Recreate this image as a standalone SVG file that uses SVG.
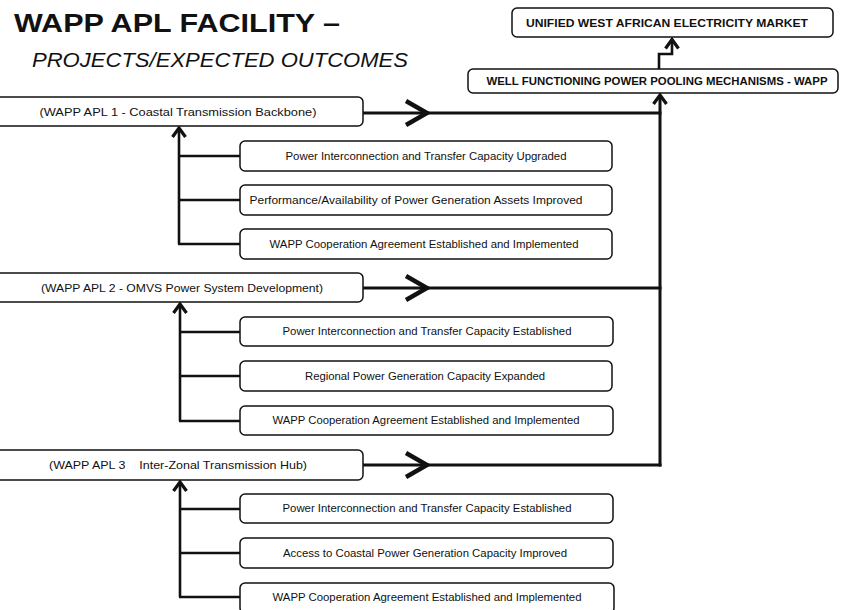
<svg xmlns="http://www.w3.org/2000/svg" width="845" height="610" viewBox="0 0 845 610">
<defs>
<style>
.box{fill:#fff;stroke:#111;stroke-width:1.5}
.t{font-family:"Liberation Sans",Arial,sans-serif;font-size:10px;fill:#111;text-anchor:middle}
.apl{font-family:"Liberation Sans",Arial,sans-serif;font-size:11px;fill:#111;text-anchor:middle}
.b{font-family:"Liberation Sans",Arial,sans-serif;font-size:10px;font-weight:bold;fill:#111;text-anchor:middle}
.c{fill:none;stroke:#111;stroke-width:2.6}
.m{fill:none;stroke:#111;stroke-width:3}
</style>
<marker id="chev" markerUnits="userSpaceOnUse" markerWidth="30" markerHeight="30" viewBox="-26 -15 30 30" refX="0" refY="0" orient="auto">
<path d="M-21,-12 L0,0 L-21,12" fill="none" stroke="#111" stroke-width="4.5" stroke-linejoin="miter"/>
</marker>
<marker id="ah" markerUnits="userSpaceOnUse" markerWidth="16" markerHeight="16" viewBox="-10 -8 16 16" refX="0" refY="0" orient="auto">
<path d="M-9,-6.5 L0,0 L-9,6.5" fill="none" stroke="#111" stroke-width="3.2"/>
</marker>
</defs>
<rect width="845" height="610" fill="#fff"/>

<g id="title">
<text x="14" y="32" font-family="'Liberation Sans',Arial,sans-serif" font-size="25" font-weight="bold" fill="#111" textLength="326" lengthAdjust="spacingAndGlyphs">WAPP APL FACILITY –</text>
<text x="32" y="67" font-family="'Liberation Sans',Arial,sans-serif" font-size="20" font-style="italic" fill="#111" textLength="376" lengthAdjust="spacingAndGlyphs">PROJECTS/EXPECTED OUTCOMES</text>
</g>

<g id="connectors">
<path class="c" d="M659,69 V54 H672 V39.5" marker-end="url(#ah)"/>
<path class="m" d="M660,466.5 V95" marker-end="url(#ah)"/>
<path class="m" d="M363,113 H427" marker-end="url(#chev)"/>
<path class="m" d="M425,113 H661.5"/>
<path class="m" d="M363,288 H427" marker-end="url(#chev)"/>
<path class="m" d="M425,288 H661.5"/>
<path class="m" d="M363,465 H427" marker-end="url(#chev)"/>
<path class="m" d="M425,465 H661.5"/>
<path class="c" d="M179,244 V128" marker-end="url(#ah)"/>
<path class="c" d="M178,156 H240 M178,200 H240 M178,244 H240"/>
<path class="c" d="M180,421 V304" marker-end="url(#ah)"/>
<path class="c" d="M179,332 H240 M179,376 H240 M179,421 H240"/>
<path class="c" d="M180,597 V482" marker-end="url(#ah)"/>
<path class="c" d="M179,509 H240 M179,553 H240 M179,597 H240"/>
</g>

<g id="unified">
<rect class="box" x="512" y="8" width="321" height="29" rx="5"/>
<text class="b" x="667" y="26.5" font-size="10.5" textLength="282" lengthAdjust="spacingAndGlyphs">UNIFIED WEST AFRICAN ELECTRICITY MARKET</text>
</g>
<g id="wapp">
<rect class="box" x="468" y="69" width="370" height="24" rx="5"/>
<text class="b" x="657" y="84.5" font-size="9.5" textLength="341" lengthAdjust="spacingAndGlyphs">WELL FUNCTIONING POWER POOLING MECHANISMS - WAPP</text>
</g>

<g id="apl1">
<rect class="box" x="-6" y="97" width="369" height="29" rx="5"/>
<text class="apl" x="178" y="115.5" textLength="277" lengthAdjust="spacingAndGlyphs">(WAPP APL 1 - Coastal Transmission Backbone)</text>
</g>
<g id="apl1-o1">
<rect class="box" x="240" y="141" width="372" height="30" rx="5"/>
<text class="t" x="426" y="159.5" textLength="281" lengthAdjust="spacingAndGlyphs">Power Interconnection and Transfer Capacity Upgraded</text>
</g>
<g id="apl1-o2">
<rect class="box" x="240" y="185" width="372" height="30" rx="5"/>
<text class="t" x="416" y="203.5" textLength="333" lengthAdjust="spacingAndGlyphs">Performance/Availability of Power Generation Assets Improved</text>
</g>
<g id="apl1-o3">
<rect class="box" x="240" y="229" width="372" height="30" rx="5"/>
<text class="t" x="424" y="247.5" textLength="309" lengthAdjust="spacingAndGlyphs">WAPP Cooperation Agreement Established and Implemented</text>
</g>

<g id="apl2">
<rect class="box" x="-6" y="273" width="369" height="29" rx="5"/>
<text class="apl" x="182" y="291.5" textLength="282" lengthAdjust="spacingAndGlyphs">(WAPP APL 2 - OMVS Power System Development)</text>
</g>
<g id="apl2-o1">
<rect class="box" x="240" y="317" width="373" height="29" rx="5"/>
<text class="t" x="427" y="335" textLength="289" lengthAdjust="spacingAndGlyphs">Power Interconnection and Transfer Capacity Established</text>
</g>
<g id="apl2-o2">
<rect class="box" x="240" y="361" width="372" height="30" rx="5"/>
<text class="t" x="425" y="379.5" textLength="240" lengthAdjust="spacingAndGlyphs">Regional Power Generation Capacity Expanded</text>
</g>
<g id="apl2-o3">
<rect class="box" x="240" y="406" width="373" height="29" rx="5"/>
<text class="t" x="426" y="424" textLength="307" lengthAdjust="spacingAndGlyphs">WAPP Cooperation Agreement Established and Implemented</text>
</g>

<g id="apl3">
<rect class="box" x="-6" y="450" width="369" height="30" rx="5"/>
<text class="apl" x="178" y="468.5" textLength="258" lengthAdjust="spacingAndGlyphs" style="white-space:pre">(WAPP APL 3    Inter-Zonal Transmission Hub)</text>
</g>
<g id="apl3-o1">
<rect class="box" x="240" y="494" width="373" height="29" rx="5"/>
<text class="t" x="427" y="512" textLength="289" lengthAdjust="spacingAndGlyphs">Power Interconnection and Transfer Capacity Established</text>
</g>
<g id="apl3-o2">
<rect class="box" x="240" y="538" width="373" height="30" rx="5"/>
<text class="t" x="425" y="556.5" textLength="284" lengthAdjust="spacingAndGlyphs">Access to Coastal Power Generation Capacity Improved</text>
</g>
<g id="apl3-o3">
<rect class="box" x="240" y="583" width="374" height="30" rx="5"/>
<text class="t" x="427" y="601" textLength="309" lengthAdjust="spacingAndGlyphs">WAPP Cooperation Agreement Established and Implemented</text>
</g>
</svg>
